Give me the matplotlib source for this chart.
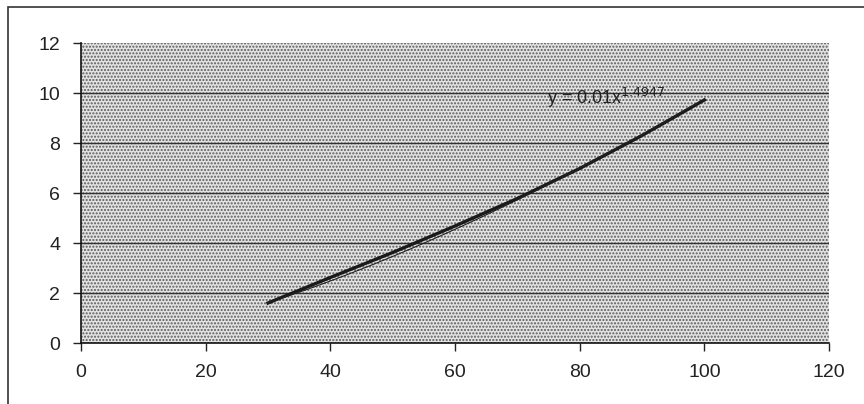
import numpy as np
import matplotlib
matplotlib.use("Agg")
import matplotlib.pyplot as plt
from matplotlib.patches import Rectangle

# values
x_vals = [30, 40, 50, 60, 70, 80, 90, 100]
y_vals = [1.6, 2.62, 3.62, 4.68, 5.78, 6.98, 8.3, 9.72]
# power trendline as printed on the chart
trend_a = 0.01
trend_b = 1.4947
eq_label = "y = 0.01x$^{1.4947}$"

plt.rcParams['font.family'] = ['Liberation Sans', 'DejaVu Sans']
plt.rcParams['hatch.linewidth'] = 1.0

fig = plt.figure(figsize=(8.64, 4.04), dpi=100)
fig.patches.append(Rectangle((8 / 864, -0.1), 1.1, 1.1 - 7 / 404, transform=fig.transFigure,
                             fill=False, edgecolor='#333333', linewidth=1.2))

ax = fig.add_axes([81 / 864, 1 - 343 / 404, 748 / 864, 300 / 404])
ax.set_facecolor('#e2e2e2')
ax.add_patch(Rectangle((0, 0), 1, 1, transform=ax.transAxes, facecolor='none',
                       edgecolor='#5a5a5a', hatch='.....', linewidth=0, zorder=0))

for yv in [2, 4, 6, 8, 10]:
    ax.axhline(yv, color='#333333', linewidth=1.0, zorder=1)

# thick data line
ax.plot(x_vals, y_vals, color='#1a1a1a', linewidth=2.4, zorder=3)

# thin trendline
xt = np.linspace(x_vals[0], x_vals[-1], 100)
ax.plot(xt, trend_a * xt ** trend_b, color='#222222', linewidth=0.8, zorder=4)

ax.text(74.8, 9.55, eq_label, fontsize=13, color='#222222', zorder=5)

ax.set_xlim(0, 120)
ax.set_ylim(0, 12)
ax.set_xticks(range(0, 121, 20))
ax.set_yticks(range(0, 13, 2))
ax.tick_params(axis='both', direction='out', length=6, width=1, labelsize=14, colors='#222222', pad=9)
ax.spines['top'].set_visible(False)
ax.spines['right'].set_visible(False)
for s in ['left', 'bottom']:
    ax.spines[s].set_color('#111111')
    ax.spines[s].set_linewidth(1.2)

fig.savefig("out.png", dpi=100)
